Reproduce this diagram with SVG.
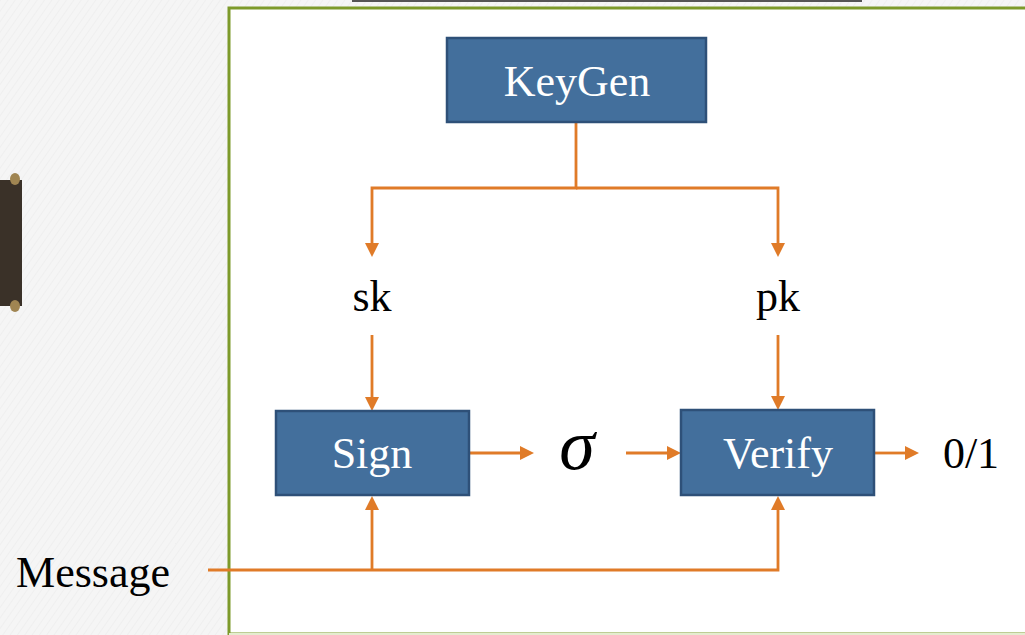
<svg xmlns="http://www.w3.org/2000/svg" width="1025" height="635" viewBox="0 0 1025 635">
<defs>
<pattern id="tex" width="6" height="6" patternUnits="userSpaceOnUse" patternTransform="rotate(35)">
<rect width="6" height="6" fill="#f5f5f5"/>
<line x1="0" y1="0" x2="0" y2="6" stroke="#efefef" stroke-width="2"/>
</pattern>
</defs>
<style>
.box{fill:#436F9C;stroke:#2E5078;stroke-width:2.5}
.bt{font-family:"Liberation Serif",serif;font-size:44px;fill:#ffffff;text-anchor:middle}
.lt{font-family:"Liberation Serif",serif;font-size:44px;fill:#000000;text-anchor:middle}
.c{fill:none;stroke:#E07B28;stroke-width:2.8}
.h{fill:#E07B28}
</style>
<rect width="1025" height="635" fill="url(#tex)"/>
<line x1="352" y1="1" x2="862" y2="1" stroke="#555555" stroke-width="2"/>
<g id="clip-object">
<rect x="0" y="180" width="22" height="126" fill="#3A3128"/>
<ellipse cx="15" cy="179" rx="5" ry="6" fill="#A08552"/>
<ellipse cx="15" cy="306" rx="5" ry="6" fill="#A08552"/>
</g>
<rect x="229" y="8" width="820" height="626" fill="#ffffff" stroke="#7D9A2A" stroke-width="3"/>
<line x1="229" y1="634" x2="1025" y2="634" stroke="#e5ecd0" stroke-width="2"/>
<g id="connectors">
<polyline class="c" points="576,122 576,188 372,188 372,243"/>
<path class="h" d="M365,243 L379,243 L372,257 z"/>
<polyline class="c" points="576,188 778,188 778,243"/>
<path class="h" d="M771,243 L785,243 L778,257 z"/>
<line class="c" x1="372" y1="335" x2="372" y2="397"/>
<path class="h" d="M365,397 L379,397 L372,411 z"/>
<line class="c" x1="778" y1="335" x2="778" y2="396"/>
<path class="h" d="M771,396 L785,396 L778,410 z"/>
<line class="c" x1="469" y1="453" x2="520" y2="453"/>
<path class="h" d="M520,446 L534,453 L520,460 z"/>
<line class="c" x1="626" y1="453" x2="667" y2="453"/>
<path class="h" d="M667,446 L681,453 L667,460 z"/>
<line class="c" x1="874" y1="453" x2="905" y2="453"/>
<path class="h" d="M905,446 L919,453 L905,460 z"/>
<polyline class="c" points="208,570 778,570 778,510"/>
<path class="h" d="M771,510 L785,510 L778,496 z"/>
<line class="c" x1="372" y1="570" x2="372" y2="510"/>
<path class="h" d="M365,510 L379,510 L372,496 z"/>
</g>
<g id="keygen">
<rect class="box" x="447" y="38" width="259" height="84"/>
<text class="bt" x="577" y="96">KeyGen</text>
</g>
<g id="sign">
<rect class="box" x="276" y="411" width="193" height="84"/>
<text class="bt" x="372" y="468">Sign</text>
</g>
<g id="verify">
<rect class="box" x="681" y="410" width="193" height="85"/>
<text class="bt" x="778" y="468">Verify</text>
</g>
<g id="sk"><text class="lt" x="372" y="311">sk</text></g>
<g id="pk"><text class="lt" x="778" y="311">pk</text></g>
<g id="sigma"><text class="lt" x="577" y="469" style="font-style:italic;font-size:72px">σ</text></g>
<g id="result"><text class="lt" x="971" y="468">0/1</text></g>
<g id="message"><text class="lt" x="93" y="587">Message</text></g>
</svg>
